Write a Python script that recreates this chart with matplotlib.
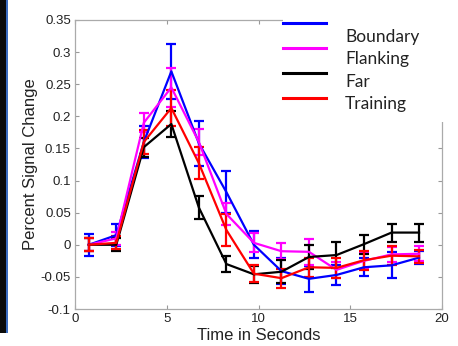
import matplotlib
matplotlib.use("Agg")
from matplotlib import pyplot as plt
from matplotlib.patches import Rectangle
from matplotlib.lines import Line2D
from matplotlib.ticker import FuncFormatter

# time points (s) and mean percent signal change per condition
t = [0.75, 2.25, 3.75, 5.25, 6.75, 8.25, 9.75, 11.25, 12.75, 14.25, 15.75, 17.25, 18.75]

boundary = [0.0, 0.015, 0.16, 0.27, 0.158, 0.082, 0.0, -0.041, -0.053, -0.047, -0.035, -0.032, -0.02]
boundary_err = [0.017, 0.017, 0.025, 0.043, 0.035, 0.033, 0.021, 0.02, 0.02, 0.015, 0.014, 0.02, 0.01]
flanking = [0.0, 0.01, 0.19, 0.245, 0.16, 0.048, 0.003, -0.01, -0.011, -0.039, -0.025, -0.015, -0.014]
flanking_err = [0.01, 0.01, 0.015, 0.03, 0.02, 0.017, 0.015, 0.012, 0.02, 0.012, 0.012, 0.012, 0.012]
far = [0.0, 0.0, 0.152, 0.188, 0.058, -0.03, -0.046, -0.042, -0.019, -0.016, 0.001, 0.019, 0.019]
far_err = [0.01, 0.01, 0.015, 0.02, 0.018, 0.012, 0.013, 0.018, 0.018, 0.02, 0.015, 0.014, 0.014]
training = [0.0, 0.003, 0.16, 0.213, 0.127, 0.023, -0.045, -0.052, -0.035, -0.036, -0.024, -0.017, -0.018]
training_err = [0.01, 0.01, 0.018, 0.028, 0.025, 0.025, 0.013, 0.015, 0.015, 0.015, 0.015, 0.015, 0.01]

labels = ["Boundary", "Flanking", "Far", "Training"]
colors = ["#0000ff", "#ff00ff", "#000000", "#ff0000"]
series = [boundary, flanking, far, training]
errors = [boundary_err, flanking_err, far_err, training_err]

xticks = [0, 5, 10, 15, 20]
yticks = [-0.1, -0.05, 0, 0.05, 0.1, 0.15, 0.2, 0.25, 0.3, 0.35]

plt.rcParams['font.family'] = ['Liberation Sans', 'DejaVu Sans']

fig = plt.figure(figsize=(4.58, 3.46), dpi=100)
W, H = 458.0, 346.0
ax = fig.add_axes([75 / W, 1 - 309 / H, (442 - 75) / W, (309 - 20) / H])

for y, e, c in zip(series, errors, colors):
    ax.errorbar(t, y, yerr=e, color=c, lw=1.6, elinewidth=1.6, capsize=3.5, capthick=1.6)

ax.set_xlim(0, 20)
ax.set_ylim(-0.1, 0.35)
ax.set_xticks(xticks)
ax.set_yticks(yticks)
ax.yaxis.set_major_formatter(FuncFormatter(lambda v, p: "%g" % round(v, 2)))
ax.tick_params(direction="in", length=3, width=0.8, colors="#999999",
               labelcolor="#222222", labelsize=9.5, top=True, right=True, pad=3)
for s in ax.spines.values():
    s.set_color("#aaaaaa")
    s.set_linewidth(0.9)
ax.set_xlabel("Time in Seconds", fontsize=12, color="#222222", labelpad=2)
ax.set_ylabel("Percent Signal Change", fontsize=12, color="#222222", labelpad=2)

# pasted legend box covering the top-right corner
fig.add_artist(Rectangle((283 / W, 1 - 122 / H), 165 / W, 122 / H, transform=fig.transFigure,
                         facecolor="white", edgecolor="none", zorder=5))
line_y = [23, 48, 73, 98]
text_y = [37, 59, 82, 104]
for lab, c, ly, ty in zip(labels, colors, line_y, text_y):
    fig.add_artist(Line2D([283 / W, 326 / W], [1 - ly / H, 1 - ly / H], transform=fig.transFigure,
                          color=c, lw=2.2, zorder=6))
    fig.text(345 / W, 1 - ty / H, lab, fontsize=12.5, family=['Lato', 'DejaVu Sans'],
             color="#222222", va="center", ha="left", zorder=7)

# dark slide edge on the left
fig.add_artist(Rectangle((0, 13 / H), 6 / W, 1 - 13 / H, transform=fig.transFigure,
                         facecolor="#0a0a0a", edgecolor="none"))
fig.add_artist(Rectangle((6 / W, 13 / H), 2 / W, 1 - 13 / H, transform=fig.transFigure,
                         facecolor="#3b6cc0", edgecolor="none"))

fig.savefig("out.png", dpi=100)
